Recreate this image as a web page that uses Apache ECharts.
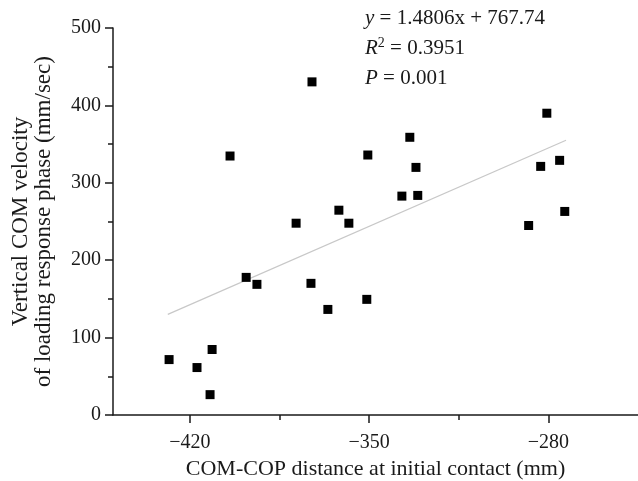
<!DOCTYPE html>
<html>
<head>
<meta charset="utf-8">
<script src="https://cdn.jsdelivr.net/npm/echarts@6/dist/echarts.min.js"></script>
<style>
  html, body { margin: 0; padding: 0; background: #fff; }
  #chart { width: 638px; height: 481px; }
</style>
</head>
<body>
<div id="chart"></div>
<script>
// COM-COP distance (mm) vs vertical COM velocity (mm/sec)
const distance = [-428.1, -417.2, -412.1, -411.3, -404.3, -398.0, -393.8, -378.5, -372.7, -372.3,
  -366.1, -361.8, -357.9, -350.9, -350.5, -337.2, -334.1, -331.7, -331.0, -287.7,
  -283.0, -280.6, -275.6, -273.6]
const velocity = [71.6, 61.3, 26.3, 84.6, 334.6, 177.8, 168.8, 247.8, 170.1, 430.4,
  136.4, 264.6, 247.8, 149.4, 335.9, 282.8, 358.8, 319.9, 283.7, 244.8,
  321.2, 389.9, 329.0, 263.0]

// fitted line end points as drawn
const fitX = [-428.6, -273.1]
const fitY = [130, 355]

const xMajorTicks = [-420, -350, -280]
const xMinorTicks = [-385, -315]

const annotation = ['{i|y} = 1.4806x + 767.74', '{i|R}{s|2} = 0.3951', '{i|P} = 0.001']

const FONT = '"Liberation Serif", "DejaVu Serif", serif'
const INK = '#1a1a1a'

const chart = echarts.init(document.getElementById('chart'))

const xBase = {
  type: 'value',
  min: -450,
  max: -245,
  position: 'bottom',
  splitLine: { show: false }
}

chart.setOption({
  backgroundColor: '#fff',
  animation: false,
  grid: { left: 113, right: 0, top: 28, bottom: 66, outerBoundsMode: 'none' },
  xAxis: [
    {
      ...xBase,
      name: 'COM-COP distance at initial contact (mm)',
      nameLocation: 'middle',
      nameGap: 43,
      nameTextStyle: { fontFamily: FONT, fontSize: 22, color: INK },
      axisLine: { lineStyle: { color: INK, width: 1.5 } },
      axisTick: { length: 8, customValues: xMajorTicks, lineStyle: { color: INK, width: 1.5 } },
      axisLabel: {
        customValues: xMajorTicks,
        margin: 18,
        fontFamily: FONT,
        fontSize: 20,
        color: INK,
        formatter: (v) => (v < 0 ? '\u2212' + Math.abs(v) : String(v))
      }
    },
    {
      ...xBase,
      axisLine: { show: false },
      axisTick: { length: 5, customValues: xMinorTicks, lineStyle: { color: INK, width: 1.5 } },
      axisLabel: { show: false }
    }
  ],
  yAxis: {
    type: 'value',
    min: 0,
    max: 500,
    interval: 100,
    name: 'Vertical COM velocity\nof loading response phase (mm/sec)',
    nameLocation: 'middle',
    nameGap: 58,
    nameTextStyle: { fontFamily: FONT, fontSize: 23, color: INK, lineHeight: 23 },
    splitLine: { show: false },
    axisLine: { show: true, lineStyle: { color: INK, width: 1.5 } },
    axisTick: { show: true, length: 8, lineStyle: { color: INK, width: 1.5 } },
    minorTick: { show: true, splitNumber: 2, length: 5, lineStyle: { color: INK, width: 1.5 } },
    axisLabel: { margin: 12, fontFamily: FONT, fontSize: 20, color: INK }
  },
  graphic: [
    {
      type: 'text',
      left: 365,
      top: 3,
      style: {
        text: annotation.join('\n'),
        fontFamily: FONT,
        fontSize: 21,
        lineHeight: 30,
        fill: INK,
        rich: {
          i: { fontFamily: FONT, fontSize: 21, fontStyle: 'italic', fill: INK },
          s: { fontFamily: FONT, fontSize: 14, fill: INK, padding: [0, 0, 9, 0] }
        }
      }
    }
  ],
  series: [
    {
      type: 'line',
      data: fitX.map((x, i) => [x, fitY[i]]),
      symbol: 'none',
      lineStyle: { color: '#c8c8c8', width: 1.2 },
      z: 1
    },
    {
      type: 'scatter',
      data: distance.map((x, i) => [x, velocity[i]]),
      symbol: 'rect',
      symbolSize: 9,
      itemStyle: { color: '#000', opacity: 1 },
      z: 2
    }
  ]
})
</script>
</body>
</html>
